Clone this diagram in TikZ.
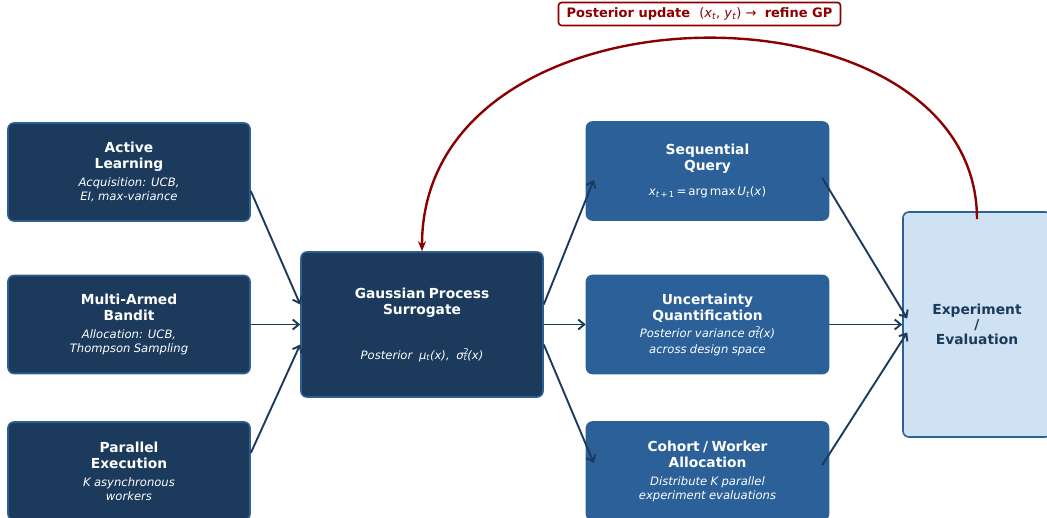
\documentclass[tikz,border=0pt]{standalone}
\usepackage{fontspec}
\setmainfont{DejaVu Sans}
\usetikzlibrary{arrows.meta,positioning}

\definecolor{navy}{HTML}{1B3A5C}
\definecolor{midblue}{HTML}{2B6099}
\definecolor{edgeblue}{HTML}{2E5F93}
\definecolor{paleblue}{HTML}{CFE2F3}
\definecolor{loopred}{HTML}{8B0000}

\newcommand{\ttl}{\fontsize{13.8}{16}\selectfont\bfseries}
\newcommand{\dsc}{\fontsize{11.6}{14}\selectfont\mdseries\itshape}
\newcommand{\lo}[1]{\textsubscript{\itshape #1}}

\begin{document}
\begin{tikzpicture}[
    x=1pt, y=-1pt,
    base/.style={rectangle, rounded corners=6pt, line width=1.6pt, text width=230pt, align=center, minimum width=242pt, minimum height=98pt},
    inbox/.style={base, draw=edgeblue, fill=navy, text=white},
    outbox/.style={base, draw=midblue, fill=midblue, text=white},
    expbox/.style={rectangle, rounded corners=6pt, line width=1.6pt, draw=midblue, fill=paleblue, text=navy, align=center, minimum width=148pt, minimum height=225pt, font=\fontsize{13.8}{15}\selectfont\bfseries},
    feed/.style={line width=1.9pt, draw=navy, -{Straight Barb[length=6pt,width=10pt,line width=1.9pt]}},
    loop/.style={line width=2.4pt, draw=loopred, -{Stealth[length=10pt,width=8pt]}}
]
\useasboundingbox (0,0) rectangle (1047,518);

% Inputs
\node [inbox] (active) at (129,172) {\ttl Active\\Learning\par\vspace{4pt}\dsc Acquisition: UCB,\\EI, max-variance\par};
\node [inbox] (bandit) at (129,324.5) {\ttl Multi-Armed\\Bandit\par\vspace{4pt}\dsc Allocation: UCB,\\Thompson Sampling\par};
\node [inbox] (parallel) at (129,471) {\ttl Parallel\\Execution\par\vspace{4pt}\dsc K asynchronous\\workers\par};

% Surrogate
\node [inbox, minimum height=145pt] (gp) at (422,324.5) {\ttl Gaussian Process\\Surrogate\par\vspace{31pt}\dsc Posterior\ \ μ\lo{t}(x), \ σ\rlap{\textsuperscript{\upshape 2}}\lo{t}(x)\par};

% Outputs
\node [outbox] (query) at (707.5,171) {\ttl Sequential\\Query\par\vspace{11pt}\fontsize{11.8}{14}\selectfont\mdseries\textit{x}\textsubscript{\itshape t\upshape\,+\,1}\,=\,arg\,max\,\textit{U}\lo{t}(\textit{x})\par};
\node [outbox] (uq) at (707.5,324.5) {\ttl Uncertainty\\Quantification\par\vspace{3pt}\dsc Posterior variance σ\rlap{\textsuperscript{\upshape 2}}\lo{t}(x)\\[2pt]across design space\par};
\node [outbox] (cohort) at (707.5,471) {\ttl Cohort / Worker\\Allocation\par\vspace{4pt}\dsc Distribute K parallel\\experiment evaluations\par};

% Experiment
\node [expbox] (exp) at (977,324.5) {Experiment\\/\\Evaluation};

% Loop label
\node [rectangle, rounded corners=3pt, draw=loopred, line width=1.6pt, fill=white, text=loopred, minimum width=282pt, minimum height=23pt, inner sep=2pt, font=\fontsize{13}{14}\selectfont] (upd) at (699.5,14) {\bfseries Posterior update\ \ \mdseries(\textit{x}\lo{t}, \textit{y}\lo{t}) →\ \ \bfseries refine GP};

% Arrows
\draw [feed] ([yshift=-19pt]active.east) -- ([yshift=20pt]gp.west);
\draw [feed] (bandit.east) -- (gp.west);
\draw [feed] ([yshift=18pt]parallel.east) -- ([yshift=-20pt]gp.west);
\draw [feed] ([yshift=20pt]gp.east) -- ([xshift=8pt,yshift=-9pt]query.west);
\draw [feed] (gp.east) -- (uq.west);
\draw [feed] ([yshift=-20pt]gp.east) -- ([xshift=8pt,yshift=8pt]cohort.west);
\draw [feed] ([xshift=-7pt,yshift=-7pt]query.east) -- ([xshift=5pt,yshift=6pt]exp.west);
\draw [feed] (uq.east) -- (exp.west);
\draw [feed] ([xshift=-7pt,yshift=6pt]cohort.east) -- ([xshift=5pt,yshift=-8pt]exp.west);
\draw [loop] ([yshift=-8pt]exp.north) .. controls (977,-27) and (422,-27) .. (gp.north);

\end{tikzpicture}
\end{document}
